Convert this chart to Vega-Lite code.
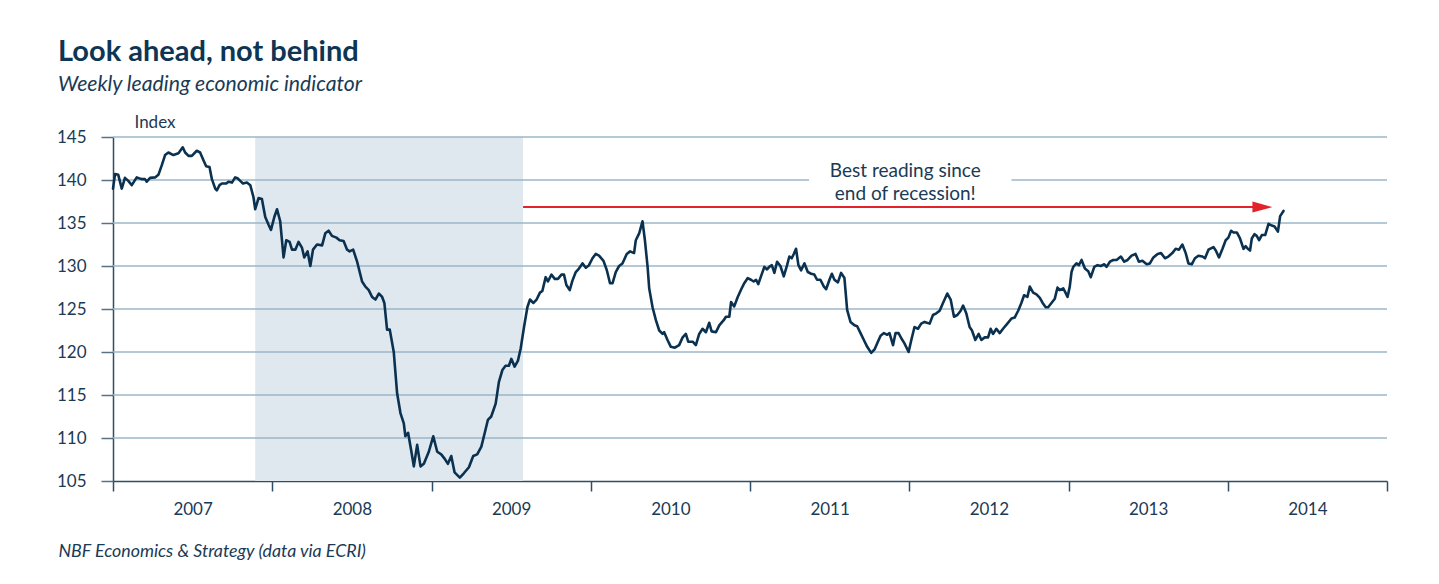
{
  "$schema": "https://vega.github.io/schema/vega-lite/v6.json",
  "width": 1274,
  "height": 344,
  "autosize": {"type": "none"},
  "padding": {"left": 113, "top": 137, "right": 52, "bottom": 103},
  "background": "white",
  "config": {
    "view": {"stroke": null},
    "font": "Lato"
  },
  "title": {
    "text": "Look ahead, not behind",
    "subtitle": "Weekly leading economic indicator",
    "anchor": "start",
    "frame": "group",
    "dx": -55,
    "offset": 18,
    "font": "Lato",
    "fontSize": 29,
    "fontWeight": "bold",
    "color": "#0e3553",
    "subtitleFont": "Lato",
    "subtitleFontSize": 21.2,
    "subtitleFontStyle": "italic",
    "subtitleColor": "#1a3a55",
    "subtitlePadding": 7
  },
  "datasets": {
    "series": [
      {"t":2007.000,"v":139.0},{"t":2007.013,"v":140.7},{"t":2007.033,"v":140.6},{"t":2007.055,"v":139.0},{"t":2007.075,"v":140.25},{"t":2007.096,"v":139.9},{"t":2007.118,"v":139.4},{"t":2007.149,"v":140.3},{"t":2007.180,"v":140.1},{"t":2007.201,"v":140.1},{"t":2007.212,"v":139.8},{"t":2007.233,"v":140.25},{"t":2007.264,"v":140.3},{"t":2007.285,"v":140.6},{"t":2007.306,"v":141.7},{"t":2007.327,"v":142.9},{"t":2007.348,"v":143.2},{"t":2007.379,"v":142.9},{"t":2007.411,"v":143.1},{"t":2007.438,"v":143.8},{"t":2007.453,"v":143.2},{"t":2007.474,"v":142.8},{"t":2007.495,"v":142.8},{"t":2007.526,"v":143.4},{"t":2007.547,"v":143.2},{"t":2007.568,"v":142.3},{"t":2007.585,"v":141.6},{"t":2007.606,"v":141.5},{"t":2007.621,"v":140.1},{"t":2007.642,"v":139.0},{"t":2007.652,"v":138.8},{"t":2007.669,"v":139.4},{"t":2007.684,"v":139.6},{"t":2007.711,"v":139.6},{"t":2007.725,"v":139.8},{"t":2007.747,"v":139.7},{"t":2007.767,"v":140.3},{"t":2007.782,"v":140.2},{"t":2007.799,"v":139.9},{"t":2007.816,"v":139.6},{"t":2007.841,"v":139.7},{"t":2007.862,"v":139.4},{"t":2007.882,"v":138.0},{"t":2007.893,"v":136.6},{"t":2007.914,"v":137.9},{"t":2007.935,"v":137.8},{"t":2007.956,"v":135.7},{"t":2007.977,"v":134.8},{"t":2007.992,"v":134.2},
      {"t":2008.013,"v":135.7},{"t":2008.030,"v":136.6},{"t":2008.050,"v":135.2},{"t":2008.071,"v":131.0},{"t":2008.088,"v":133.0},{"t":2008.109,"v":132.8},{"t":2008.124,"v":131.9},{"t":2008.145,"v":131.9},{"t":2008.165,"v":132.8},{"t":2008.187,"v":132.1},{"t":2008.201,"v":131.0},{"t":2008.222,"v":131.7},{"t":2008.239,"v":130.0},{"t":2008.256,"v":131.9},{"t":2008.281,"v":132.5},{"t":2008.313,"v":132.4},{"t":2008.333,"v":133.8},{"t":2008.354,"v":134.1},{"t":2008.375,"v":133.5},{"t":2008.403,"v":133.3},{"t":2008.423,"v":133.0},{"t":2008.448,"v":132.9},{"t":2008.470,"v":131.9},{"t":2008.486,"v":131.7},{"t":2008.508,"v":131.9},{"t":2008.533,"v":130.5},{"t":2008.564,"v":128.2},{"t":2008.585,"v":127.6},{"t":2008.606,"v":127.2},{"t":2008.627,"v":126.4},{"t":2008.648,"v":126.1},{"t":2008.669,"v":126.8},{"t":2008.690,"v":126.4},{"t":2008.704,"v":125.7},{"t":2008.721,"v":122.6},{"t":2008.738,"v":122.6},{"t":2008.763,"v":120.0},{"t":2008.784,"v":115.2},{"t":2008.805,"v":112.9},{"t":2008.826,"v":111.7},{"t":2008.836,"v":110.2},{"t":2008.853,"v":110.6},{"t":2008.872,"v":108.6},{"t":2008.889,"v":106.7},{"t":2008.910,"v":109.2},{"t":2008.931,"v":106.7},{"t":2008.952,"v":107.0},{"t":2008.983,"v":108.4},
      {"t":2009.011,"v":110.2},{"t":2009.036,"v":108.4},{"t":2009.061,"v":108.1},{"t":2009.082,"v":107.6},{"t":2009.103,"v":107.0},{"t":2009.124,"v":107.9},{"t":2009.145,"v":106.0},{"t":2009.178,"v":105.4},{"t":2009.203,"v":105.9},{"t":2009.235,"v":106.6},{"t":2009.262,"v":107.9},{"t":2009.287,"v":108.1},{"t":2009.313,"v":109.0},{"t":2009.333,"v":110.5},{"t":2009.354,"v":112.1},{"t":2009.375,"v":112.5},{"t":2009.403,"v":114.0},{"t":2009.423,"v":116.5},{"t":2009.445,"v":117.9},{"t":2009.465,"v":118.4},{"t":2009.486,"v":118.4},{"t":2009.501,"v":119.2},{"t":2009.522,"v":118.3},{"t":2009.543,"v":119.0},{"t":2009.560,"v":120.4},{"t":2009.581,"v":122.9},{"t":2009.602,"v":125.2},{"t":2009.618,"v":126.1},{"t":2009.640,"v":125.7},{"t":2009.660,"v":126.1},{"t":2009.681,"v":126.9},{"t":2009.696,"v":127.1},{"t":2009.717,"v":128.7},{"t":2009.731,"v":128.2},{"t":2009.753,"v":129.0},{"t":2009.774,"v":128.5},{"t":2009.794,"v":128.5},{"t":2009.816,"v":129.0},{"t":2009.832,"v":129.0},{"t":2009.847,"v":127.8},{"t":2009.868,"v":127.2},{"t":2009.885,"v":128.3},{"t":2009.906,"v":129.3},{"t":2009.926,"v":129.7},{"t":2009.948,"v":130.3},{"t":2009.969,"v":129.8},{"t":2009.989,"v":130.1},
      {"t":2010.011,"v":130.9},{"t":2010.031,"v":131.4},{"t":2010.052,"v":131.2},{"t":2010.080,"v":130.6},{"t":2010.101,"v":129.5},{"t":2010.121,"v":128.0},{"t":2010.137,"v":128.0},{"t":2010.157,"v":129.3},{"t":2010.178,"v":130.0},{"t":2010.199,"v":130.3},{"t":2010.226,"v":131.4},{"t":2010.247,"v":131.7},{"t":2010.272,"v":131.5},{"t":2010.283,"v":133.0},{"t":2010.304,"v":133.8},{"t":2010.325,"v":135.2},{"t":2010.340,"v":133.0},{"t":2010.357,"v":129.9},{"t":2010.367,"v":127.4},{"t":2010.388,"v":125.2},{"t":2010.409,"v":123.7},{"t":2010.430,"v":122.5},{"t":2010.451,"v":122.1},{"t":2010.461,"v":122.3},{"t":2010.482,"v":121.4},{"t":2010.503,"v":120.6},{"t":2010.528,"v":120.5},{"t":2010.555,"v":120.8},{"t":2010.577,"v":121.7},{"t":2010.597,"v":122.1},{"t":2010.612,"v":121.2},{"t":2010.640,"v":121.2},{"t":2010.660,"v":120.8},{"t":2010.681,"v":122.1},{"t":2010.702,"v":122.7},{"t":2010.723,"v":122.3},{"t":2010.744,"v":123.4},{"t":2010.759,"v":122.4},{"t":2010.786,"v":122.3},{"t":2010.807,"v":123.1},{"t":2010.835,"v":123.7},{"t":2010.849,"v":124.1},{"t":2010.870,"v":124.1},{"t":2010.881,"v":125.8},{"t":2010.901,"v":125.3},{"t":2010.923,"v":126.4},{"t":2010.945,"v":127.3},{"t":2010.964,"v":128.0},{"t":2010.986,"v":128.6},
      {"t":2011.006,"v":128.4},{"t":2011.023,"v":128.2},{"t":2011.038,"v":128.4},{"t":2011.052,"v":127.9},{"t":2011.069,"v":128.8},{"t":2011.090,"v":129.9},{"t":2011.107,"v":129.6},{"t":2011.121,"v":129.9},{"t":2011.137,"v":130.1},{"t":2011.153,"v":129.2},{"t":2011.170,"v":130.5},{"t":2011.191,"v":130.0},{"t":2011.212,"v":128.8},{"t":2011.233,"v":130.1},{"t":2011.247,"v":131.1},{"t":2011.262,"v":130.9},{"t":2011.275,"v":131.4},{"t":2011.289,"v":132.0},{"t":2011.304,"v":130.1},{"t":2011.321,"v":129.5},{"t":2011.342,"v":130.3},{"t":2011.363,"v":129.3},{"t":2011.384,"v":129.1},{"t":2011.404,"v":129.0},{"t":2011.421,"v":128.4},{"t":2011.442,"v":128.4},{"t":2011.464,"v":127.6},{"t":2011.478,"v":127.3},{"t":2011.499,"v":128.4},{"t":2011.514,"v":129.1},{"t":2011.530,"v":128.4},{"t":2011.552,"v":128.1},{"t":2011.572,"v":129.2},{"t":2011.593,"v":128.6},{"t":2011.610,"v":124.9},{"t":2011.631,"v":123.5},{"t":2011.656,"v":123.1},{"t":2011.673,"v":123.0},{"t":2011.694,"v":122.2},{"t":2011.715,"v":121.4},{"t":2011.736,"v":120.6},{"t":2011.761,"v":119.9},{"t":2011.782,"v":120.3},{"t":2011.803,"v":121.2},{"t":2011.820,"v":121.9},{"t":2011.841,"v":122.2},{"t":2011.862,"v":122.0},{"t":2011.876,"v":122.2},{"t":2011.898,"v":120.8},{"t":2011.914,"v":122.2},{"t":2011.933,"v":122.2},{"t":2011.950,"v":121.6},{"t":2011.970,"v":121.0},{"t":2011.996,"v":120.0},
      {"t":2012.013,"v":121.4},{"t":2012.033,"v":122.9},{"t":2012.055,"v":122.7},{"t":2012.075,"v":123.3},{"t":2012.096,"v":123.5},{"t":2012.128,"v":123.3},{"t":2012.149,"v":124.3},{"t":2012.170,"v":124.5},{"t":2012.191,"v":124.8},{"t":2012.212,"v":125.7},{"t":2012.239,"v":126.8},{"t":2012.260,"v":126.1},{"t":2012.281,"v":124.1},{"t":2012.302,"v":124.3},{"t":2012.323,"v":124.8},{"t":2012.338,"v":125.4},{"t":2012.358,"v":124.5},{"t":2012.379,"v":122.9},{"t":2012.394,"v":122.5},{"t":2012.415,"v":121.4},{"t":2012.436,"v":122.1},{"t":2012.453,"v":121.4},{"t":2012.474,"v":121.7},{"t":2012.495,"v":121.7},{"t":2012.511,"v":122.7},{"t":2012.526,"v":122.1},{"t":2012.547,"v":122.7},{"t":2012.568,"v":122.2},{"t":2012.589,"v":122.7},{"t":2012.616,"v":123.3},{"t":2012.642,"v":123.9},{"t":2012.662,"v":124.0},{"t":2012.684,"v":124.8},{"t":2012.704,"v":125.7},{"t":2012.721,"v":126.6},{"t":2012.742,"v":126.4},{"t":2012.757,"v":127.6},{"t":2012.778,"v":126.9},{"t":2012.799,"v":126.7},{"t":2012.820,"v":126.3},{"t":2012.841,"v":125.6},{"t":2012.857,"v":125.2},{"t":2012.872,"v":125.2},{"t":2012.893,"v":125.7},{"t":2012.914,"v":126.2},{"t":2012.931,"v":127.5},{"t":2012.945,"v":127.2},{"t":2012.967,"v":127.4},{"t":2012.981,"v":126.9},{"t":2012.994,"v":126.4},
      {"t":2013.008,"v":127.6},{"t":2013.019,"v":129.3},{"t":2013.030,"v":129.9},{"t":2013.050,"v":130.3},{"t":2013.065,"v":130.1},{"t":2013.082,"v":130.7},{"t":2013.103,"v":129.7},{"t":2013.124,"v":129.4},{"t":2013.140,"v":128.7},{"t":2013.162,"v":129.9},{"t":2013.182,"v":130.1},{"t":2013.203,"v":130.0},{"t":2013.225,"v":130.2},{"t":2013.239,"v":129.9},{"t":2013.260,"v":130.5},{"t":2013.281,"v":130.7},{"t":2013.302,"v":130.7},{"t":2013.329,"v":131.1},{"t":2013.350,"v":130.5},{"t":2013.371,"v":130.7},{"t":2013.396,"v":131.2},{"t":2013.421,"v":131.4},{"t":2013.442,"v":130.5},{"t":2013.464,"v":130.6},{"t":2013.491,"v":130.2},{"t":2013.511,"v":130.3},{"t":2013.533,"v":131.0},{"t":2013.560,"v":131.4},{"t":2013.581,"v":131.5},{"t":2013.606,"v":130.9},{"t":2013.627,"v":131.1},{"t":2013.652,"v":131.5},{"t":2013.673,"v":132.0},{"t":2013.694,"v":131.9},{"t":2013.715,"v":132.5},{"t":2013.736,"v":131.5},{"t":2013.753,"v":130.3},{"t":2013.774,"v":130.2},{"t":2013.794,"v":130.9},{"t":2013.816,"v":131.2},{"t":2013.841,"v":131.1},{"t":2013.857,"v":130.9},{"t":2013.879,"v":131.9},{"t":2013.910,"v":132.2},{"t":2013.925,"v":131.8},{"t":2013.945,"v":131.0},{"t":2013.967,"v":132.0},{"t":2013.987,"v":133.0},
      {"t":2014.004,"v":133.3},{"t":2014.021,"v":134.1},{"t":2014.036,"v":133.9},{"t":2014.057,"v":133.9},{"t":2014.077,"v":133.2},{"t":2014.099,"v":132.0},{"t":2014.113,"v":132.3},{"t":2014.126,"v":132.0},{"t":2014.140,"v":131.8},{"t":2014.151,"v":133.2},{"t":2014.168,"v":133.7},{"t":2014.182,"v":133.5},{"t":2014.197,"v":133.0},{"t":2014.214,"v":133.6},{"t":2014.235,"v":133.6},{"t":2014.256,"v":134.9},{"t":2014.277,"v":134.7},{"t":2014.294,"v":134.6},{"t":2014.315,"v":134.0},{"t":2014.329,"v":135.8},{"t":2014.350,"v":136.4}
    ]
  },
  "layer": [
    {
      "data": {"values": [{"start": 2007.893, "end": 2009.575}]},
      "mark": {"type": "rect", "color": "#dfe7ef"},
      "encoding": {
        "x": {
          "field": "start", "type": "quantitative",
          "scale": {"domain": [2007, 2015], "nice": false, "zero": false},
          "axis": {
            "values": [2007, 2008, 2009, 2010, 2011, 2012, 2013, 2014, 2015],
            "labelExpr": "datum.value < 2015 ? format(datum.value, 'd') : ''",
            "labelOffset": 79.6,
            "labelFlush": false,
            "labelOverlap": false,
            "labelFont": "Lato", "labelFontSize": 17, "labelColor": "#1a3a55",
            "labelPadding": 10,
            "tickSize": 10, "tickColor": "#2f4d64", "tickWidth": 1.5,
            "domainColor": "#2f4d64", "domainWidth": 1.5,
            "grid": false,
            "title": "NBF Economics & Strategy (data via ECRI)",
            "titleFont": "Lato", "titleFontSize": 17.8, "titleFontStyle": "italic", "titleFontWeight": "normal",
            "titleColor": "#1a3a55", "titleAlign": "left", "titleBaseline": "middle",
            "titleX": -55, "titleY": 70
          }
        },
        "x2": {"field": "end"}
      }
    },
    {
      "data": {"values": [{"g": 110}, {"g": 115}, {"g": 120}, {"g": 125}, {"g": 130}, {"g": 135}, {"g": 140}, {"g": 145}]},
      "mark": {"type": "rule", "color": "#9db6c7", "strokeWidth": 1.6},
      "encoding": {
        "y": {
          "field": "g", "type": "quantitative",
          "scale": {"domain": [105, 145], "nice": false, "zero": false},
          "axis": {
            "values": [105, 110, 115, 120, 125, 130, 135, 140, 145],
            "labelFont": "Lato", "labelFontSize": 17, "labelColor": "#1a3a55",
            "labelPadding": 15,
            "tickSize": 12, "tickColor": "#5a7185", "tickWidth": 1.5,
            "domainColor": "#2f4d64", "domainWidth": 1.5,
            "grid": false,
            "title": "Index",
            "titleFont": "Lato", "titleFontSize": 17, "titleFontWeight": "normal",
            "titleColor": "#1a3a55", "titleAngle": 0, "titleAlign": "left", "titleBaseline": "middle",
            "titleX": 21, "titleY": -15
          }
        }
      }
    },
    {
      "data": {"values": [{"x1": 2011.371, "x2": 2012.642, "y1": 138.4, "y2": 143.5}]},
      "mark": {"type": "rect", "color": "white"},
      "encoding": {
        "x": {"field": "x1", "type": "quantitative"},
        "x2": {"field": "x2"},
        "y": {"field": "y1", "type": "quantitative"},
        "y2": {"field": "y2"}
      }
    },
    {
      "data": {"values": [{"t": 2011.975, "v": 141.0, "label": ["Best reading since", "end of recession!"]}]},
      "mark": {"type": "text", "font": "Lato", "fontSize": 19, "color": "#1a3a55", "align": "center", "baseline": "middle", "lineHeight": 23},
      "encoding": {
        "x": {"field": "t", "type": "quantitative"},
        "y": {"field": "v", "type": "quantitative"},
        "text": {"field": "label"}
      }
    },
    {
      "data": {"values": [{"t1": 2009.575, "t2": 2014.21, "v": 136.85}]},
      "mark": {"type": "rule", "color": "#e3232b", "strokeWidth": 2},
      "encoding": {
        "x": {"field": "t1", "type": "quantitative"},
        "x2": {"field": "t2"},
        "y": {"field": "v", "type": "quantitative"}
      }
    },
    {
      "data": {"values": [{"t": 2014.218, "v": 136.85}]},
      "mark": {"type": "point", "shape": "M-1,-0.55L1,0L-1,0.55Z", "size": 400, "filled": true, "color": "#e3232b", "opacity": 1, "strokeWidth": 0},
      "encoding": {
        "x": {"field": "t", "type": "quantitative"},
        "y": {"field": "v", "type": "quantitative"}
      }
    },
    {
      "data": {"name": "series"},
      "mark": {"type": "line", "color": "#0b3150", "strokeWidth": 2.6, "strokeJoin": "round", "strokeCap": "round"},
      "encoding": {
        "x": {"field": "t", "type": "quantitative"},
        "y": {"field": "v", "type": "quantitative"}
      }
    }
  ]
}
